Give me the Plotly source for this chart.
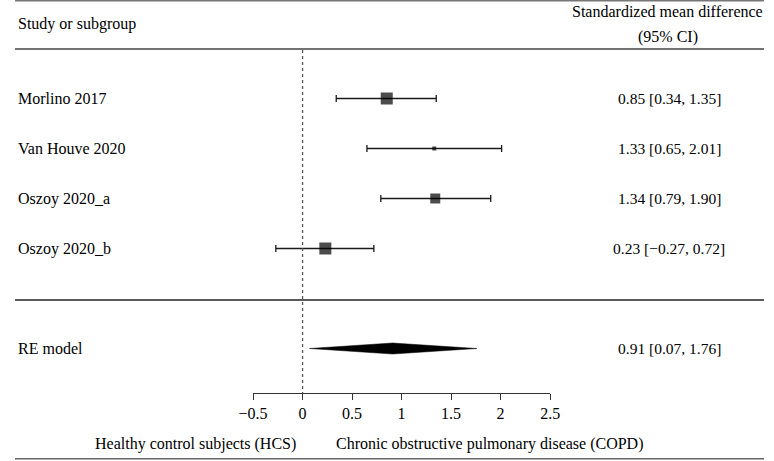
import plotly.graph_objects as go

studies = ["Morlino 2017", "Van Houve 2020", "Oszoy 2020_a", "Oszoy 2020_b"]
est = [0.85, 1.33, 1.34, 0.23]
lo = [0.34, 0.65, 0.79, -0.27]
hi = [1.35, 2.01, 1.90, 0.72]
msize = [12, 4, 10, 12]
rows = [1, 2, 3, 4]

re_label = "RE model"
re_est, re_lo, re_hi = 0.91, 0.07, 1.76
re_row = 6

tickvals = [-0.5, 0, 0.5, 1, 1.5, 2, 2.5]
ticktext = ["\u22120.5", "0", "0.5", "1", "1.5", "2", "2.5"]

W, H = 774, 461
FONT = "Liberation Serif"
FS = 16
FS_NUM = 15.5

ROW0_PX, ROW_STEP = 98.5, 50
AXIS_PX = 393

def fmt(v):
    return f"{v:.2f}".replace("-", "\u2212")

def row_px(r):
    return ROW0_PX + (r - 1) * ROW_STEP

fig = go.Figure()

fig.add_trace(go.Scatter(
    x=est, y=rows, mode="markers",
    marker=dict(symbol="square", size=msize, color="black", line=dict(width=0)),
    error_x=dict(type="data", symmetric=False,
                 array=[h - e for h, e in zip(hi, est)],
                 arrayminus=[e - l for e, l in zip(est, lo)],
                 color="#1a1a1a", thickness=1.3, width=3.5),
    showlegend=False, hoverinfo="skip"))

hh = 0.11
fig.add_trace(go.Scatter(
    x=[re_lo, re_est, re_hi, re_est, re_lo],
    y=[re_row, re_row - hh, re_row, re_row + hh, re_row],
    fill="toself", fillcolor="black", mode="lines",
    line=dict(color="black", width=0.5),
    showlegend=False, hoverinfo="skip"))

y_top = 1 + (0 - ROW0_PX) / ROW_STEP
y_bot = 1 + (H - ROW0_PX) / ROW_STEP
y_axis = 1 + (AXIS_PX - ROW0_PX) / ROW_STEP
y_head = 1 + (50 - ROW0_PX) / ROW_STEP

# dotted reference line at 0
fig.add_shape(type="line", x0=0, x1=0, y0=y_head, y1=y_axis, xref="x", yref="y",
              line=dict(color="#555", width=1.3, dash="dot"))

def hline(ypx, w=1.3, color="#444"):
    yp = 1 - ypx / H
    fig.add_shape(type="line", x0=0, x1=1, y0=yp, y1=yp, xref="paper", yref="paper",
                  line=dict(color=color, width=w))

hline(0.8, 1.5, "#777")
hline(49, 1.5, "#444")
hline(300, 1.3, "#222")
hline(458.8, 1.6, "#666")

def text(xpx, ypx, s, anchor="left", size=FS):
    fig.add_annotation(x=xpx / W, y=1 - ypx / H, xref="paper", yref="paper",
                       text=s, showarrow=False, xanchor=anchor, yanchor="middle",
                       borderpad=0,
                       font=dict(family=FONT, size=size, color="black"))

text(2, 24, "Study or subgroup")
text(674, 12, "Standardized mean difference", "center")
text(675, 37, "(95% CI)", "center")

for s, r, e, l, h in zip(studies, rows, est, lo, hi):
    ypx = row_px(r)
    text(2, ypx, s)
    text(676, ypx, f"{fmt(e)} [{fmt(l)}, {fmt(h)}]", "center", FS_NUM)

ypx = row_px(re_row)
text(2, ypx, re_label)
text(676, ypx, f"{fmt(re_est)} [{fmt(re_lo)}, {fmt(re_hi)}]", "center", FS_NUM)

text(187, 444, "Healthy control subjects (HCS)", "center")
text(491, 444, "Chronic obstructive pulmonary disease (COPD)", "center")

x0px, x1px = 246.0, 553.0
fig.update_layout(
    width=W, height=H,
    margin=dict(l=0, r=0, t=0, b=0),
    plot_bgcolor="white", paper_bgcolor="white",
    xaxis=dict(domain=[x0px / W, x1px / W], range=[-0.5, 2.5],
               anchor="free", position=1 - AXIS_PX / H,
               tickvals=tickvals, ticktext=ticktext,
               showline=True, linecolor="#333", linewidth=1.3,
               ticks="outside", ticklen=6, tickcolor="#333", tickwidth=1.3,
               showgrid=False, zeroline=False,
               tickfont=dict(family=FONT, size=FS, color="black")),
    yaxis=dict(domain=[0, 1], range=[y_bot, y_top],
               visible=False, showgrid=False, zeroline=False),
)

fig.write_html("out.html", config={"displayModeBar": False},
               post_script="document.body.style.margin='0';document.body.style.overflow='hidden';")
